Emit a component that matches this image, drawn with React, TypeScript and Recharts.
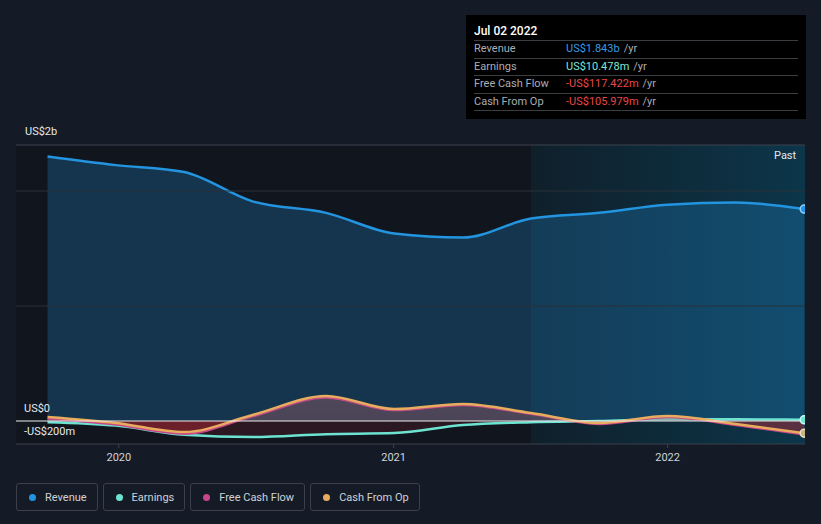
import { ComposedChart, Area, XAxis, YAxis, ReferenceLine } from "recharts";

document.body.style.margin = "0";

const periods = [
  "2019-09-28", "2019-12-28", "2020-03-28", "2020-06-27", "2020-10-03", "2021-01-02",
  "2021-04-03", "2021-07-03", "2021-10-02", "2022-01-01", "2022-04-02", "2022-07-02",
];
// values in US$ millions
const revenue = [2300, 2225, 2165, 1910, 1810, 1630, 1595, 1760, 1810, 1880, 1900, 1843];
const earnings = [-10, -40, -120, -140, -115, -105, -35, -10, 0, 15, 15, 10.478];
const freeCashFlow = [20, -30, -110, 40, 205, 95, 140, 62, -25, 35, -35, -117.422];
const cashFromOp = [35, -17, -96, 52, 217, 104, 148, 70, -17, 43, -26, -105.979];

const yearTicks = ["2020-01-01", "2021-01-01", "2022-01-01"];
const xDomain = ["2019-08-17", "2022-07-03"];
const yDomain = [-200, 2400];
const gridValues = [1000, 2000];

const ts = (d: string) => new Date(d + "T00:00:00Z").getTime();

const data = periods.map((p, i) => ({
  date: ts(p),
  revenue: revenue[i],
  earnings: earnings[i],
  fcf: freeCashFlow[i],
  cfo: cashFromOp[i],
}));

const C = {
  bg: "#151b26",
  plot: "#11161e",
  revenue: "#2394df",
  earnings: "#6de3d2",
  fcf: "#c7468a",
  cfo: "#e8ac5e",
  red: "#e84848",
  muted: "#a9adb4",
};

const last = data.length - 1;
const endDot = (color: string, ring: string) => (props: any) => {
  if (props.index !== last) return <g key={`d-${props.index}`} />;
  return <circle key={`d-${props.index}`} cx={props.cx} cy={props.cy} r={4} fill={color} stroke={ring} strokeWidth={1.5} />;
};

const tooltipRows = [
  { label: "Revenue", value: "US$1.843b", color: "#3a9be0" },
  { label: "Earnings", value: "US$10.478m", color: "#7fe6d4" },
  { label: "Free Cash Flow", value: "-US$117.422m", color: C.red },
  { label: "Cash From Op", value: "-US$105.979m", color: C.red },
];

const legendItems = [
  { label: "Revenue", color: C.revenue },
  { label: "Earnings", color: C.earnings },
  { label: "Free Cash Flow", color: C.fcf },
  { label: "Cash From Op", color: C.cfo },
];

const font = "Roboto, 'Noto Sans', sans-serif";

export default function App() {
  return (
    <div style={{ position: "relative", width: 821, height: 524, background: C.bg, fontFamily: font, overflow: "hidden" }}>
      {/* plot background + last-year highlight */}
      <div style={{ position: "absolute", left: 16, top: 145, width: 789, height: 299, background: C.plot }} />
      <div
        style={{
          position: "absolute", left: 531, top: 145, width: 274, height: 299,
          background: "linear-gradient(90deg, rgba(10,60,80,0.25) 0%, rgba(8,80,110,0.55) 100%)",
        }}
      />
      <div style={{ position: "absolute", left: 0, top: 0 }}>
        <ComposedChart width={821} height={470} data={data} margin={{ top: 145, right: 16, bottom: 6, left: 16 }}>
          <defs>
            <linearGradient id="cashGrad" gradientUnits="userSpaceOnUse" x1="0" y1="145" x2="0" y2="444">
              <stop offset="0.6" stopColor="#e08a86" stopOpacity={0.35} />
              <stop offset="0.923" stopColor="#b06068" stopOpacity={0.35} />
              <stop offset="0.923" stopColor="#c02a36" stopOpacity={0.45} />
              <stop offset="1" stopColor="#c02a36" stopOpacity={0.45} />
            </linearGradient>
            <linearGradient id="earnGrad" gradientUnits="userSpaceOnUse" x1="0" y1="145" x2="0" y2="444">
              <stop offset="0.923" stopColor="#6de3d2" stopOpacity={0.1} />
              <stop offset="0.923" stopColor="#a02030" stopOpacity={0.3} />
              <stop offset="1" stopColor="#a02030" stopOpacity={0.3} />
            </linearGradient>
          </defs>
          <XAxis
            dataKey="date"
            type="number"
            scale="linear"
            domain={xDomain.map(ts)}
            ticks={yearTicks.map(ts)}
            tickFormatter={(v: number) => String(new Date(v).getUTCFullYear())}
            height={20}
            tickSize={4}
            tickMargin={5}
            axisLine={{ stroke: "#3a404b" }}
            tickLine={{ stroke: "#3a404b" }}
            tick={{ fill: "#d0d3d8", fontSize: 11, fontFamily: font }}
            allowDataOverflow
          />
          <YAxis hide type="number" domain={yDomain} allowDataOverflow />
          <ReferenceLine y={yDomain[1]} stroke="#3d434e" strokeWidth={1} />
          {gridValues.map((g) => (
            <ReferenceLine key={g} y={g} stroke="#2a3039" strokeWidth={1} />
          ))}
          <Area
            type="monotone"
            dataKey="revenue"
            stroke={C.revenue}
            strokeWidth={2.5}
            fill={C.revenue}
            fillOpacity={0.25}
            baseValue={0}
            dot={endDot(C.revenue, "#8fd0ff")}
            activeDot={false}
            isAnimationActive={false}
          />
          <Area
            type="monotone"
            dataKey="earnings"
            stroke={C.earnings}
            strokeWidth={2.5}
            fill="url(#earnGrad)"
            baseValue={0}
            dot={endDot(C.earnings, "#c8fff6")}
            activeDot={false}
            isAnimationActive={false}
          />
          <Area
            type="monotone"
            dataKey="fcf"
            stroke={C.fcf}
            strokeWidth={2.5}
            fill="url(#cashGrad)"
            baseValue={0}
            dot={false}
            activeDot={false}
            isAnimationActive={false}
          />
          <Area
            type="monotone"
            dataKey="cfo"
            stroke={C.cfo}
            strokeWidth={2.5}
            fill="url(#cashGrad)"
            fillOpacity={0.5}
            baseValue={0}
            dot={endDot("#c9b27e", "#e8e0c8")}
            activeDot={false}
            isAnimationActive={false}
          />
          <ReferenceLine y={0} stroke="#ececec" strokeWidth={1} />
        </ComposedChart>
      </div>

      {/* axis value labels */}
      <div style={{ position: "absolute", left: 25, top: 125, color: "#e6e8eb", fontSize: 11 }}>US$2b</div>
      <div style={{ position: "absolute", left: 24, top: 402, color: "#e6e8eb", fontSize: 11 }}>US$0</div>
      <div style={{ position: "absolute", left: 24, top: 425, color: "#e6e8eb", fontSize: 11 }}>-US$200m</div>
      <div style={{ position: "absolute", left: 774, top: 149, color: "#e6e8eb", fontSize: 11 }}>Past</div>

      {/* tooltip */}
      <div style={{ position: "absolute", left: 466, top: 15, width: 340, height: 104, background: "#000", boxSizing: "border-box", padding: "0 8px" }}>
        <div style={{ color: "#fff", fontSize: 12, fontWeight: 500, height: 25, lineHeight: "32px", borderBottom: "1px solid #3a3d42" }}>Jul 02 2022</div>
        {tooltipRows.map((r) => (
          <div key={r.label} style={{ display: "flex", height: 16.5, lineHeight: "16.5px", fontSize: 11, borderBottom: "1px solid #3a3d42" }}>
            <span style={{ width: 92, color: C.muted }}>{r.label}</span>
            <span style={{ color: r.color }}>{r.value}</span>
            <span style={{ color: C.muted, marginLeft: 4 }}>/yr</span>
          </div>
        ))}
      </div>

      {/* legend */}
      <div style={{ position: "absolute", left: 16, top: 483, display: "flex", gap: 5 }}>
        {legendItems.map((l) => (
          <div
            key={l.label}
            style={{
              height: 26, border: "1px solid #3a3f4a", borderRadius: 3, display: "flex", alignItems: "center",
              padding: "0 10px 0 12px", color: "#cfd2d7", fontSize: 11,
            }}
          >
            <span style={{ width: 7, height: 7, borderRadius: 4, background: l.color, marginRight: 9 }} />
            {l.label}
          </div>
        ))}
      </div>
    </div>
  );
}
